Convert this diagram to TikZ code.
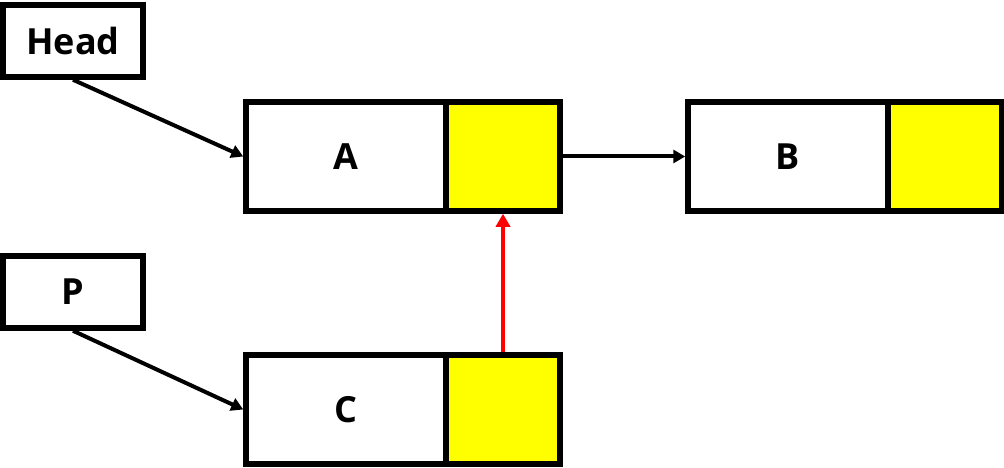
\documentclass[tikz,border=0pt]{standalone}
\usepackage{fontspec}
\setmainfont{Open Sans}
\usetikzlibrary{arrows.meta}
\definecolor{cellyellow}{RGB}{255,255,0}
\begin{document}
\begin{tikzpicture}[x=1pt,y=-1pt,
  lbl/.style={draw=black, line width=5.5pt, inner sep=0pt, minimum width=140pt, minimum height=72pt, fill=white, font=\fontsize{36}{40}\selectfont\bfseries},
  datacell/.style={draw=black, line width=5.5pt, inner sep=0pt, minimum width=200pt, minimum height=109pt, fill=white, font=\fontsize{36}{40}\selectfont\bfseries},
  ptrcell/.style={draw=black, line width=5.5pt, inner sep=0pt, minimum width=114pt, minimum height=109pt, fill=cellyellow},
  link/.style={line width=4pt, -{Triangle[length=12pt,width=13pt]}},
  redlink/.style={line width=4.5pt, red, -{Triangle[length=13pt,width=14pt]}}]
\useasboundingbox (0,0) rectangle (1004,468);
\node[lbl] (Head) at (73,41) {Head};
\node[lbl] (P) at (73,292) {P};
\node[datacell] (Adata) at (346,156.5) {A};
\node[ptrcell] (Aptr) at (503,156.5) {};
\node[datacell] (Bdata) at (788,156.5) {B};
\node[ptrcell] (Bptr) at (945,156.5) {};
\node[datacell] (Cdata) at (346,409.5) {C};
\node[ptrcell] (Cptr) at (503,409.5) {};
\draw[link] (Head.south) -- (Adata.west);
\draw[link] (P.south) -- (Cdata.west);
\draw[link] (Aptr.east) -- (Bdata.west);
\draw[redlink] (Cptr.north) -- (Aptr.south);
\end{tikzpicture}
\end{document}
